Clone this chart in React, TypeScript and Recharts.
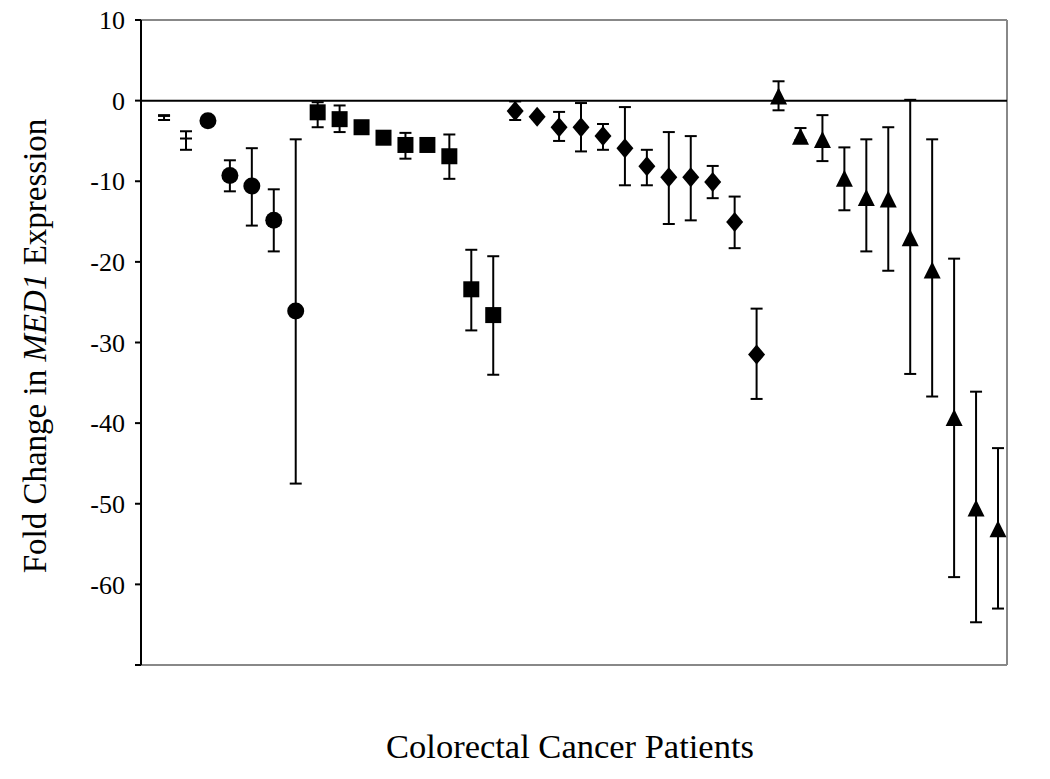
import React from "react";
import {
  ScatterChart,
  Scatter,
  XAxis,
  YAxis,
  ErrorBar,
  ReferenceLine,
} from "recharts";

// Patient positions (1..39) grouped by marker type
const plainPatients = [1, 2];
const plainMean = [-1.9, -4.7];
const plainHigh = [-1.8, -3.8];
const plainLow = [-2.4, -6.1];

const circlePatients = [3, 4, 5, 6, 7];
const circleMean = [-2.5, -9.3, -10.6, -14.85, -26.1];
const circleHigh = [-2.3, -7.4, -5.9, -11.0, -4.8];
const circleLow = [-2.7, -11.25, -15.5, -18.7, -47.5];

const squarePatients = [8, 9, 10, 11, 12, 13, 14, 15, 16];
const squareMean = [-1.45, -2.3, -3.3, -4.6, -5.5, -5.5, -6.9, -23.4, -26.6];
const squareHigh = [-0.2, -0.6, -3.0, -4.3, -4.0, -5.3, -4.2, -18.5, -19.3];
const squareLow = [-3.3, -3.9, -3.6, -4.9, -7.2, -5.7, -9.7, -28.5, -34.0];

const diamondPatients = [17, 18, 19, 20, 21, 22, 23, 24, 25, 26, 27, 28];
const diamondMean = [-1.3, -2.0, -3.3, -3.3, -4.4, -5.9, -8.15, -9.5, -9.5, -10.1, -15.05, -31.5];
const diamondHigh = [-0.1, -1.8, -1.4, -0.3, -2.9, -0.8, -6.1, -3.9, -4.4, -8.1, -11.9, -25.8];
const diamondLow = [-2.4, -2.2, -5.0, -6.3, -6.1, -10.5, -10.5, -15.3, -14.85, -12.1, -18.3, -37.0];

const trianglePatients = [29, 30, 31, 32, 33, 34, 35, 36, 37, 38, 39];
const triangleMean = [0.4, -4.6, -5.0, -9.8, -12.2, -12.4, -17.2, -21.2, -39.5, -50.7, -53.3];
const triangleHigh = [2.4, -3.4, -1.8, -5.8, -4.8, -3.3, 0.1, -4.8, -19.6, -36.1, -43.1];
const triangleLow = [-1.2, -4.9, -7.5, -13.6, -18.7, -21.1, -33.9, -36.7, -59.1, -64.7, -63.0];

const yTicks = [10, 0, -10, -20, -30, -40, -50, -60, -70];
const xTitle = "Colorectal Cancer Patients";

function build(p: number[], m: number[], hi: number[], lo: number[]) {
  return p.map((x, i) => ({
    x,
    y: m[i],
    err: [m[i] - lo[i], hi[i] - m[i]],
  }));
}

const plainData = build(plainPatients, plainMean, plainHigh, plainLow);
const circleData = build(circlePatients, circleMean, circleHigh, circleLow);
const squareData = build(squarePatients, squareMean, squareHigh, squareLow);
const diamondData = build(diamondPatients, diamondMean, diamondHigh, diamondLow);
const triangleData = build(trianglePatients, triangleMean, triangleHigh, triangleLow);

const FONT = "'Liberation Serif', 'DejaVu Serif', serif";

const NoShape = (props: any) => {
  const { cx, cy } = props;
  return <line x1={cx - 6} x2={cx + 6} y1={cy} y2={cy} stroke="#000" strokeWidth={2} />;
};
const CircleShape = (props: any) => <circle cx={props.cx} cy={props.cy} r={8.5} fill="#000" />;
const SquareShape = (props: any) => (
  <rect x={props.cx - 8} y={props.cy - 8} width={16} height={16} fill="#000" />
);
const DiamondShape = (props: any) => {
  const { cx, cy } = props;
  return <polygon points={`${cx},${cy - 10} ${cx + 8.5},${cy} ${cx},${cy + 10} ${cx - 8.5},${cy}`} fill="#000" />;
};
const TriangleShape = (props: any) => {
  const { cx, cy } = props;
  return <polygon points={`${cx},${cy - 10} ${cx + 8.5},${cy + 7} ${cx - 8.5},${cy + 7}`} fill="#000" />;
};

const YLabel = (props: any) => {
  const cx = 35;
  const cy = 346;
  return (
    <text
      x={cx}
      y={cy}
      transform={`rotate(-90 ${cx} ${cy})`}
      textAnchor="middle"
      dominantBaseline="central"
      fontFamily={FONT}
      fontSize={33}
      fill="#000"
    >
      <tspan>Fold Change in </tspan>
      <tspan fontStyle="italic">MED1</tspan>
      <tspan> Expression</tspan>
    </text>
  );
};

const XLabel = (props: any) => (
  <text x={570} y={758} textAnchor="middle" fontFamily={FONT} fontSize={34.5} fill="#000">
    {xTitle}
  </text>
);

export default function App() {
  const eb = (
    <ErrorBar dataKey="err" direction="y" width={6} stroke="#000" strokeWidth={2} />
  );
  return (
    <div style={{ position: "absolute", left: 0, top: 0, background: "#fff" }}>
      <ScatterChart
        width={1050}
        height={779}
        margin={{ top: 20, right: 43, left: 0, bottom: 54 }}
        style={{ fontFamily: FONT }}
      >
        <XAxis
          type="number"
          dataKey="x"
          domain={[-0.05, 39.41]}
          allowDataOverflow
          tick={false}
          tickLine={false}
          axisLine={{ stroke: "#888", strokeWidth: 2 }}
          height={60}
          label={<XLabel />}
        />
        <YAxis
          type="number"
          dataKey="y"
          domain={[-70, 10]}
          ticks={yTicks}
          interval={0}
          width={141}
          tickSize={6}
          tickMargin={10}
          axisLine={{ stroke: "#000", strokeWidth: 2 }}
          tickLine={{ stroke: "#000", strokeWidth: 2 }}
          tick={{ fill: "#000", fontSize: 26, fontFamily: FONT }}
          tickFormatter={(v: number) => (v === -70 ? "" : String(v))}
          label={<YLabel />}
        />
        <ReferenceLine y={10} stroke="#888" strokeWidth={2} />
        <ReferenceLine x={39.41} stroke="#888" strokeWidth={2} />
        <ReferenceLine y={0} stroke="#000" strokeWidth={2} />
        <Scatter data={plainData} shape={NoShape} isAnimationActive={false}>
          {eb}
        </Scatter>
        <Scatter data={circleData} shape={CircleShape} isAnimationActive={false}>
          {eb}
        </Scatter>
        <Scatter data={squareData} shape={SquareShape} isAnimationActive={false}>
          {eb}
        </Scatter>
        <Scatter data={diamondData} shape={DiamondShape} isAnimationActive={false}>
          {eb}
        </Scatter>
        <Scatter data={triangleData} shape={TriangleShape} isAnimationActive={false}>
          {eb}
        </Scatter>
      </ScatterChart>
    </div>
  );
}
